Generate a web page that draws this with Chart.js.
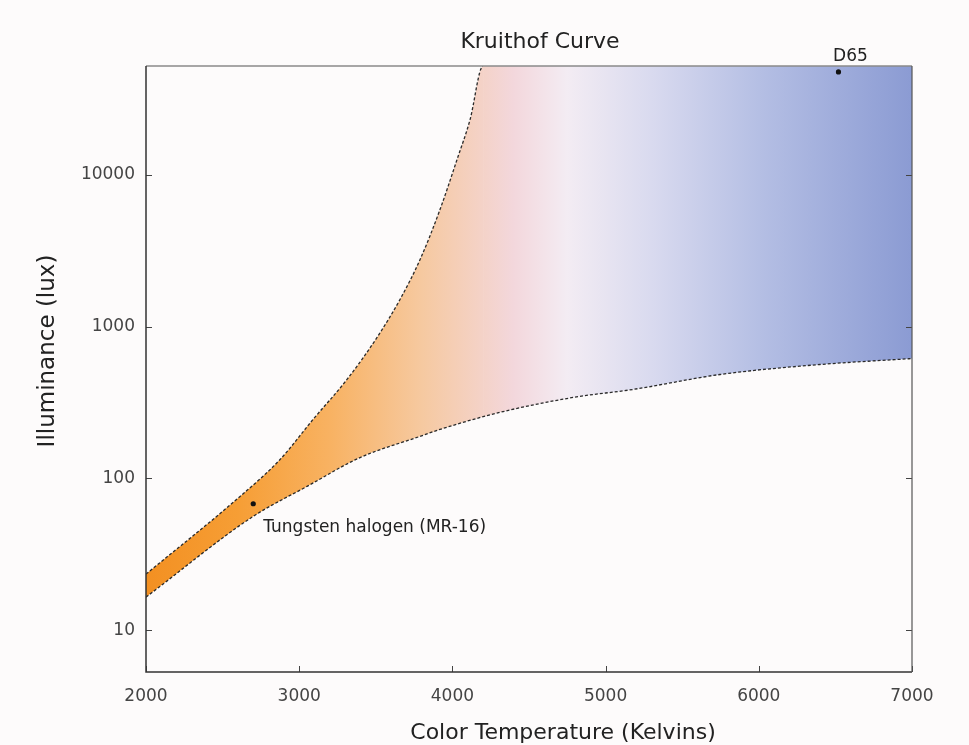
<!DOCTYPE html>
<html><head><meta charset="utf-8">
<script src="https://cdn.jsdelivr.net/npm/chart.js@4/dist/chart.umd.min.js"></script>
<style>html,body{margin:0;padding:0;background:#fdfbfb;} #wrap{width:969px;height:745px;position:relative;}</style>
</head><body><div id="wrap"><canvas id="c"></canvas></div>
<script>
// ---- data ----
const chartTitle = 'Kruithof Curve';
const xTitle = 'Color Temperature (Kelvins)';
const yTitle = 'Illuminance (lux)';
const xTicks = [2000, 3000, 4000, 5000, 6000, 7000];
const yTicks = [10, 100, 1000, 10000];
const upperK   = [2000, 2614, 2875, 3090, 3312, 3508, 3658, 3789, 3919, 4030, 4115, 4200, 7000];
const upperLux = [23.4, 76, 133, 244, 448, 847, 1507, 2760, 5890, 12560, 23000, 52000, 52000];
const lowerK   = [2000, 2698, 3051, 3397, 3789, 3919, 4311, 4787, 5179, 5747, 6400, 7000];
const lowerLux = [16.5, 56, 88.5, 137, 189, 210, 272, 341, 385, 483, 562, 615];
const pointNames = ['Tungsten halogen (MR-16)', 'D65'];
const pointK   = [2700, 6520];
const pointLux = [68, 47500];
const yMin = 5.3, yMax = 52000;

// ---- style ----
const gradK = [2000, 2600, 3200, 3800, 4400, 4750, 5300, 6000, 7000];
const gradColors = ['#f39022', '#f69e35', '#f8b262', '#f6c9a0', '#f3d7dc', '#f3ecf3', '#d9daef', '#b5bfe4', '#8b9bd3'];
const FONT = '"DejaVu Sans", Verdana, sans-serif';

let gradCache = null;
function bandFill(ctx) {
  const chart = ctx.chart;
  const area = chart.chartArea;
  if (!area) return 'rgba(0,0,0,0)';
  const xs = chart.scales.x;
  const x0 = xs.getPixelForValue(gradK[0]);
  const x1 = xs.getPixelForValue(gradK[gradK.length - 1]);
  const key = x0 + ':' + x1;
  if (gradCache && gradCache.key === key) return gradCache.g;
  const g = chart.ctx.createLinearGradient(x0, 0, x1, 0);
  gradK.forEach((k, i) => g.addColorStop((k - gradK[0]) / (gradK[gradK.length - 1] - gradK[0]), gradColors[i]));
  gradCache = {key, g};
  return g;
}

const toPts = (xs, ys) => xs.map((x, i) => ({x, y: ys[i]}));
const upperTopStart = upperK[upperK.length - 2];

const decor = {
  id: 'decor',
  afterDraw(chart) {
    const {ctx, chartArea: a, scales: {x, y}} = chart;
    ctx.save();
    // inward ticks
    ctx.strokeStyle = '#444';
    ctx.lineWidth = 1;
    const tl = 6;
    yTicks.forEach(v => {
      const py = Math.round(y.getPixelForValue(v)) + 0.5;
      ctx.beginPath();
      ctx.moveTo(a.left, py); ctx.lineTo(a.left + tl, py);
      ctx.moveTo(a.right, py); ctx.lineTo(a.right - tl, py);
      ctx.stroke();
    });
    xTicks.forEach(v => {
      const px = Math.round(x.getPixelForValue(v)) + 0.5;
      ctx.beginPath();
      ctx.moveTo(px, a.bottom); ctx.lineTo(px, a.bottom - tl);
      ctx.stroke();
    });
    // frame
    ctx.lineWidth = 1.5;
    ctx.strokeStyle = '#8a8a8a';
    ctx.beginPath(); ctx.moveTo(a.left, a.top); ctx.lineTo(a.right, a.top); ctx.stroke();
    ctx.strokeStyle = '#333';
    ctx.beginPath(); ctx.moveTo(a.left, a.top); ctx.lineTo(a.left, a.bottom); ctx.lineTo(a.right, a.bottom); ctx.stroke();
    ctx.lineWidth = 1.2;
    ctx.strokeStyle = '#555';
    ctx.beginPath(); ctx.moveTo(a.right, a.top); ctx.lineTo(a.right, a.bottom); ctx.stroke();

    // texts
    ctx.fillStyle = '#222';
    ctx.textAlign = 'center';
    ctx.textBaseline = 'middle';
    ctx.font = '22px ' + FONT;
    ctx.fillText(chartTitle, 540, 42);
    ctx.fillText(xTitle, 563, 733);
    ctx.save();
    ctx.font = '23px ' + FONT;
    ctx.translate(48, 351);
    ctx.rotate(-Math.PI / 2);
    ctx.fillText(yTitle, 0, 0);
    ctx.restore();

    // point labels
    ctx.font = '17px ' + FONT;
    ctx.fillStyle = '#222';
    const p0x = x.getPixelForValue(pointK[0]), p0y = y.getPixelForValue(pointLux[0]);
    ctx.textAlign = 'left';
    ctx.fillText(pointNames[0], p0x + 10, p0y + 24);
    const p1x = x.getPixelForValue(pointK[1]), p1y = y.getPixelForValue(pointLux[1]);
    ctx.textAlign = 'center';
    ctx.fillText(pointNames[1], p1x + 12, p1y - 15);
    ctx.restore();
  }
};

new Chart(document.getElementById('c'), {
  type: 'scatter',
  data: {
    datasets: [
      {
        label: 'Lower limit',
        data: toPts(lowerK, lowerLux),
        showLine: true,
        fill: false,
        borderColor: '#2a2a2a',
        borderWidth: 1.3,
        borderDash: [3, 2],
        pointRadius: 0,
        cubicInterpolationMode: 'monotone',
        order: 2
      },
      {
        label: 'Upper limit',
        data: toPts(upperK, upperLux),
        showLine: true,
        fill: 0,
        backgroundColor: bandFill,
        borderColor: '#2a2a2a',
        borderWidth: 1.3,
        borderDash: [3, 2],
        pointRadius: 0,
        cubicInterpolationMode: 'monotone',
        segment: {
          borderColor: c => (c.p0.parsed.x >= upperTopStart ? 'rgba(0,0,0,0)' : '#2a2a2a')
        },
        order: 2
      },
      {
        label: 'Sources',
        data: toPts(pointK, pointLux),
        showLine: false,
        pointRadius: 2.6,
        pointBackgroundColor: '#111',
        pointBorderColor: '#111',
        pointBorderWidth: 0,
        order: 1
      }
    ]
  },
  options: {
    responsive: true,
    maintainAspectRatio: false,
    animation: false,
    layout: {padding: {left: 0, right: 57, top: 66, bottom: 0}},
    plugins: {legend: {display: false}, title: {display: false}, tooltip: {enabled: false}},
    scales: {
      x: {
        type: 'linear',
        min: xTicks[0], max: xTicks[xTicks.length - 1],
        afterBuildTicks: s => { s.ticks = xTicks.map(v => ({value: v})); },
        afterFit: s => { s.height = 73; },
        grid: {display: false, drawTicks: false},
        border: {display: false},
        ticks: {color: '#444', font: {family: FONT, size: 17}, padding: 14, maxRotation: 0, callback: v => String(v)}
      },
      y: {
        type: 'logarithmic',
        min: yMin, max: yMax,
        afterBuildTicks: s => { s.ticks = yTicks.map(v => ({value: v})); },
        afterFit: s => { s.width = 146; },
        grid: {display: false, drawTicks: false},
        border: {display: false},
        ticks: {color: '#444', font: {family: FONT, size: 17}, padding: 11, callback: v => String(v)}
      }
    }
  },
  plugins: [decor]
});
</script>
</body></html>
